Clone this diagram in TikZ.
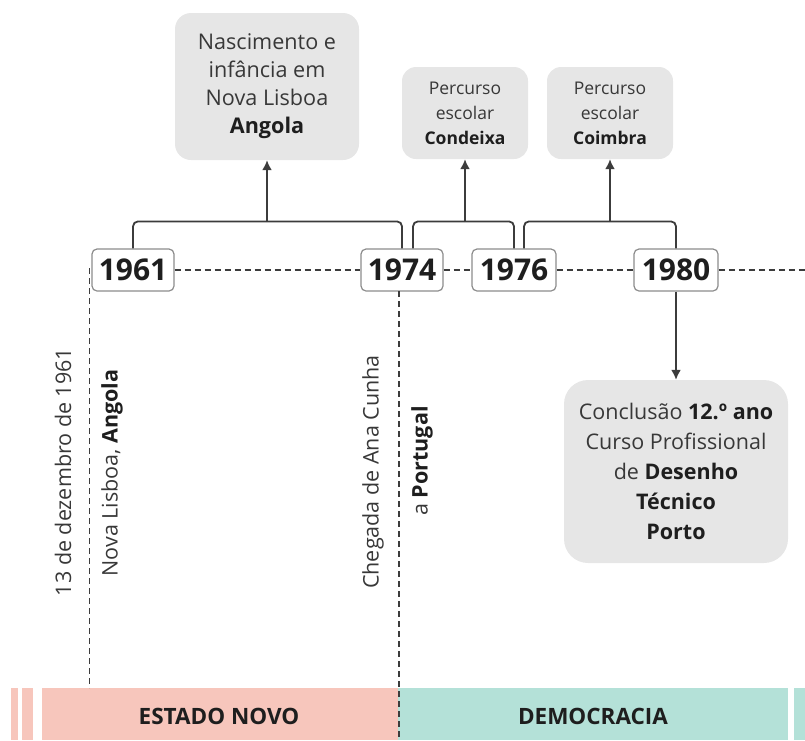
\documentclass[tikz,border=0pt]{standalone}
\usepackage{fontspec}
\setmainfont{Open Sans}
\usetikzlibrary{arrows.meta}
\definecolor{boxgray}{HTML}{E6E6E6}
\definecolor{txt}{HTML}{383838}
\definecolor{dark}{HTML}{1E1E1E}
\definecolor{linec}{HTML}{3C3C3C}
\definecolor{yborder}{HTML}{8C8C8C}
\definecolor{pinkbar}{HTML}{F7C6BC}
\definecolor{tealbar}{HTML}{B4E1D8}
\newcommand{\bt}[1]{{\bfseries\color{dark}#1}}
\begin{document}
\begin{tikzpicture}[x=1pt,y=-1pt,
  yearbox/.style={draw=yborder,line width=1.2pt,fill=white,rounded corners=5pt,
    minimum height=42pt,inner sep=0pt,font=\fontsize{30}{32}\selectfont\bfseries,text=dark},
  infobox/.style={fill=boxgray,rounded corners=16pt,align=center,inner sep=0pt,text=txt},
  br/.style={draw=linec,line width=1.8pt,rounded corners=5pt},
  arr/.style={draw=linec,line width=1.8pt,-{Latex[length=10pt,width=10pt]}},
  dsh/.style={draw=linec,line width=1.3pt,dash pattern=on 6pt off 4pt},
  rot/.style={rotate=90,text=txt,font=\fontsize{21.5}{24}\selectfont,inner sep=0pt},
  bartext/.style={font=\fontsize{22.5}{24}\selectfont\bfseries,text=dark}]
\useasboundingbox (0,0) rectangle (805,740);

% period bar
\fill[pinkbar] (11,688) rectangle (17.7,740);
\fill[pinkbar] (21.7,688) rectangle (33,740);
\fill[pinkbar] (41.7,688) rectangle (398,740);
\fill[tealbar] (398,688) rectangle (787.7,740);
\fill[tealbar] (794,688) rectangle (805,740);
\node[bartext] (estado) at (219,716) {ESTADO NOVO};
\node[bartext] (democ) at (593,716) {DEMOCRACIA};

% year boxes
\node[yearbox,minimum width=82pt] (y1961) at (133,270) {1961};
\node[yearbox,minimum width=82pt] (y1974) at (402,270) {1974};
\node[yearbox,minimum width=84pt] (y1976) at (514,270) {1976};
\node[yearbox,minimum width=84pt] (y1980) at (676,270) {1980};

% info boxes
\node[infobox,minimum width=184pt,minimum height=147pt,
  font=\fontsize{21.6}{28}\selectfont] (angola) at (267,86.5)
  {Nascimento e\\infância em\\Nova Lisboa\\\bt{Angola}};
\node[infobox,minimum width=126pt,minimum height=92pt,rounded corners=14pt,
  font=\fontsize{17.5}{25}\selectfont] (condeixa) at (465,113)
  {Percurso\\escolar\\\bt{Condeixa}};
\node[infobox,minimum width=126pt,minimum height=92pt,rounded corners=14pt,
  font=\fontsize{17.5}{25}\selectfont] (coimbra) at (610,113)
  {Percurso\\escolar\\\bt{Coimbra}};
\node[infobox,minimum width=224pt,minimum height=183pt,rounded corners=24pt,
  font=\fontsize{21.5}{30}\selectfont] (porto) at (676,471.5)
  {Conclusão \bt{12.º ano}\\Curso Profissional\\de \bt{Desenho}\\\bt{Técnico}\\\bt{Porto}};

% dashed timeline
\coordinate (rightend) at (805,270);
\draw[dsh] (y1961.east) -- (y1974.west);
\draw[dsh] (y1974.east) -- (y1976.west);
\draw[dsh] (y1976.east) -- (y1980.west);
\draw[dsh] (y1980.east) -- (rightend);

% vertical dashed
\coordinate (v1a) at (89.5,268);
\coordinate (v1b) at (89.5,688);
\coordinate (v2a) at (399,291);
\coordinate (v2b) at (399,740);
\draw[dsh] (v1a) -- (v1b);
\draw[dsh] (v2a) -- (v2b);

% brackets
\draw[br] (y1961.north) -- ++(0,-27) -| (y1974.north);
\draw[br] ([xshift=11pt]y1974.north) -- ++(0,-27) -| (y1976.north);
\draw[br] ([xshift=10pt]y1976.north) -- ++(0,-27) -| (y1980.north);

% arrows
\coordinate (b1) at (267,222);
\coordinate (b2) at (465,222);
\coordinate (b3) at (610,222);
\draw[arr] (b1) -- (angola.south);
\draw[arr] (b2) -- (condeixa.south);
\draw[arr] (b3) -- (coimbra.south);
\draw[arr] (y1980.south) -- (porto.north);

% rotated labels
\node[rot] (d1) at (63,472) {13 de dezembro de 1961};
\node[rot] (d2) at (112,473) {Nova Lisboa, \bt{Angola}};
\node[rot] (d3) at (373,472) {Chegada de Ana Cunha};
\node[rot] (d4) at (422,461) {a \bt{Portugal}};
\end{tikzpicture}
\end{document}
